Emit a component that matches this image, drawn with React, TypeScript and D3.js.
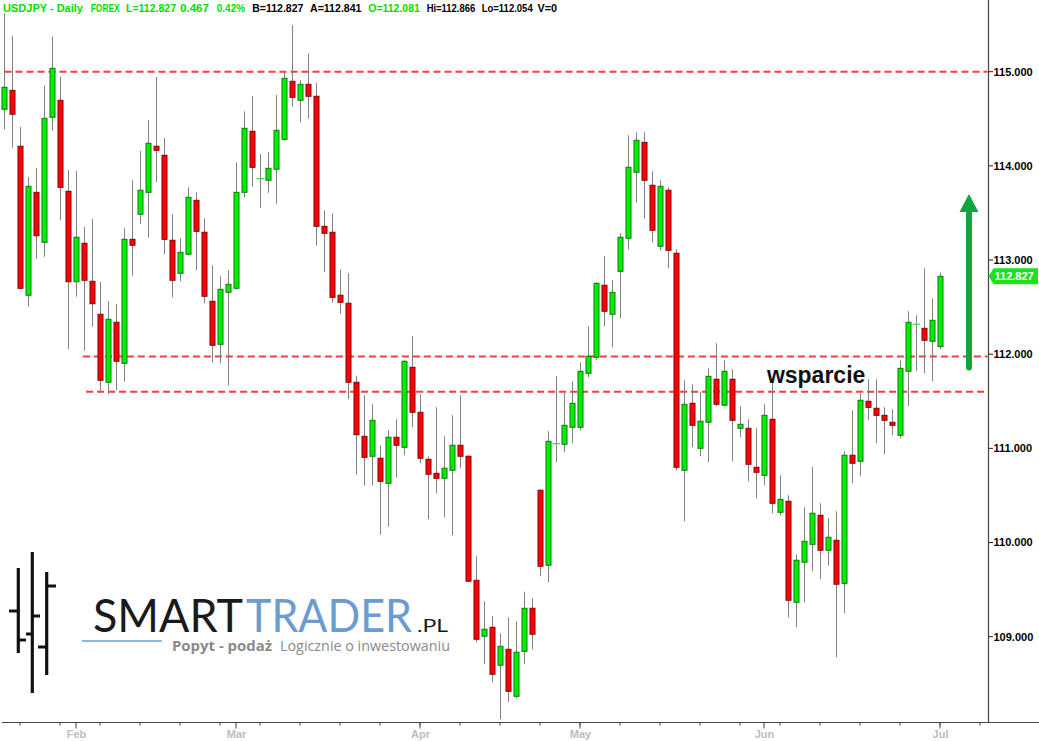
import React from "react";
import * as d3 from "d3";

const opens = [114.601,114.802,114.208,112.626,113.719,113.188,114.516,114.696,113.730,112.770,113.178,112.774,112.424,111.702,112.339,111.903,113.220,113.486,113.719,114.208,114.112,113.210,112.859,113.061,113.634,113.295,112.562,112.105,112.657,112.700,113.719,114.367,113.850,113.847,113.964,114.282,114.898,114.696,114.866,114.739,113.358,113.295,112.626,112.541,111.702,111.128,110.916,110.895,110.629,111.118,111.011,111.861,111.383,110.884,110.735,110.682,110.767,111.033,110.916,109.599,109.005,109.100,108.697,108.866,108.367,108.845,109.302,110.555,109.759,111.043,111.043,111.224,111.224,111.797,111.967,112.732,112.424,112.880,113.231,113.932,114.250,113.794,113.146,113.741,113.072,110.767,111.479,111.001,111.277,111.734,111.458,111.734,111.213,111.213,110.799,110.714,111.309,110.321,110.438,109.366,109.791,109.981,110.289,109.918,110.024,109.567,110.927,110.863,111.500,111.426,111.351,111.277,111.139,111.819,112.316,112.275,112.137,112.081];
const highs = [115.623,115.382,114.413,113.882,113.977,114.851,115.372,114.947,113.956,113.946,113.351,113.436,112.767,112.565,112.533,113.337,113.847,114.158,114.487,114.944,114.296,113.486,113.231,113.772,113.719,113.443,112.944,112.827,112.891,114.038,114.579,114.739,114.126,114.147,114.753,115.000,115.496,114.912,115.191,114.880,113.528,113.492,112.897,112.862,111.772,111.564,111.468,111.033,111.192,111.309,111.935,112.190,111.574,110.916,111.436,111.128,111.351,111.564,110.927,109.854,109.376,109.217,109.036,109.206,109.164,109.478,109.408,110.566,111.181,111.765,111.588,111.712,111.914,112.296,112.764,113.040,112.785,113.284,114.325,114.356,114.356,113.942,113.847,113.772,113.114,111.723,111.680,111.596,111.850,112.116,111.935,111.840,111.447,111.309,111.213,111.468,111.702,110.714,110.502,109.875,110.374,110.802,110.417,110.258,110.332,110.969,111.404,111.585,111.734,111.734,111.436,111.415,111.935,112.456,112.413,112.912,112.594,112.866];
const lows = [114.388,114.193,112.689,112.505,113.011,113.035,114.373,113.425,112.055,112.611,112.037,112.292,111.602,111.574,111.613,111.708,112.834,113.386,113.237,113.829,113.061,112.604,112.774,113.050,112.891,112.541,111.910,111.903,111.666,112.685,113.666,113.779,113.553,113.715,113.598,114.267,114.628,114.463,114.501,113.152,112.876,112.547,112.430,111.521,110.721,110.604,110.604,110.083,110.168,110.689,110.927,111.224,110.842,110.247,110.523,110.268,110.077,110.789,109.578,108.941,108.707,108.516,108.123,108.304,108.346,108.707,108.866,109.642,109.576,110.852,110.958,111.054,111.192,111.755,111.935,112.296,112.073,112.381,113.114,113.609,113.439,113.188,113.103,112.912,110.767,110.226,111.011,110.916,110.852,111.447,111.447,110.863,111.118,110.650,110.470,110.608,110.311,110.289,109.206,109.100,109.366,109.695,109.610,109.754,108.782,109.249,110.629,110.704,111.298,111.054,110.937,111.139,111.107,111.447,111.819,111.797,111.712,112.054];
const closes = [114.834,114.548,112.700,113.783,113.258,114.505,115.036,113.772,112.770,113.242,112.785,112.536,111.723,112.371,111.925,113.220,113.157,113.741,114.240,114.165,113.220,112.785,113.082,113.666,113.305,112.615,112.095,112.689,112.742,113.719,114.399,113.985,113.865,113.974,114.378,114.930,114.728,114.866,114.739,113.358,113.284,112.604,112.551,111.702,111.145,110.905,111.298,110.650,111.118,111.033,111.925,111.383,110.895,110.725,110.682,110.789,111.033,110.916,109.589,108.973,109.079,108.601,108.898,108.420,108.835,109.302,109.026,109.748,111.075,111.050,111.245,111.479,111.819,111.978,112.753,112.456,112.657,113.242,113.985,114.272,113.847,113.316,113.783,113.103,110.799,111.468,111.245,111.288,111.765,111.468,111.819,111.298,111.256,110.831,110.746,111.351,110.417,110.459,109.387,109.812,110.013,110.311,109.918,110.056,109.557,110.927,110.842,111.511,111.436,111.351,111.298,111.245,111.850,112.339,112.318,112.148,112.360,112.827];

const priceTicks = [109, 110, 111, 112, 113, 114, 115];
const weekTickIdx = [2,7,12,17,22,27,32,37,42,47,52,57,62,67,72,77,82,87,92,97,102,107,112,117,122];
const monthLabels = ["Feb", "Mar", "Apr", "May", "Jun", "Jul"];
const monthTickIdx = [9, 29, 52, 72, 95, 117];

const levelValues = [115.0, 111.975, 111.6];
const levelStartIdx = [0, 9.8, 10.2];

const symbol = "USDJPY";
const bid = 112.827;
const ask = 112.841;

const annotationText = "wsparcie";
const annotationIdx = 95.3;
const annotationPrice = 111.698;
const arrowIdx = 120.56;
const arrowFrom = 111.86;
const arrowTo = 113.70;

const FONT = "'Liberation Sans', Arial, Helvetica, sans-serif";

export default function App() {
  const W = 1039, H = 741;
  const x = d3.scaleLinear().domain([0, 117]).range([4.5, 940.5]);
  const y = d3.scaleLinear().domain([109, 115]).range([636.7, 71.7]);
  const axisX = 988.5;
  const axisY = 722.5;
  const fmt = d3.format(".3f");

  const n = closes.length;
  const last = closes[n - 1];
  const chg = last - closes[n - 2];
  const pct = (chg / closes[n - 2]) * 100;

  const green = "#00dd00";
  // [x, text, colour, width]
  const header: [number, string, string, number][] = [
    [3, `${symbol} - Daily`, green, 80],
    [90.7, "FOREX", green, 29],
    [126, `L=${fmt(last)}`, green, 50],
    [180, fmt(chg), green, 29],
    [216.7, `${pct.toFixed(2)}%`, green, 28.5],
    [252.3, `B=${fmt(bid)}`, "#000", 51],
    [310, `A=${fmt(ask)}`, "#000", 51.5],
    [368.3, `O=${fmt(opens[n - 1])}`, green, 51.5],
    [426.7, `Hi=${fmt(highs[n - 1])}`, "#000", 48.5],
    [481.7, `Lo=${fmt(lows[n - 1])}`, "#000", 51],
    [537.5, "V=0", "#000", 19.5],
  ];

  const ay1 = y(arrowFrom), ay2 = y(arrowTo), ax = x(arrowIdx);
  const ly = y(last);

  return (
    <svg width={W} height={H} style={{ position: "absolute", left: 0, top: 0, background: "#fff" }}>
      <rect x={0} y={0} width={W} height={H} fill="#fff" />

      {/* logo */}
      <g>
        {[
          [18.3, 568, 653],
          [32.3, 552, 693],
          [46.7, 572, 675],
        ].map(([lx, a, b], i) => (
          <line key={"lv" + i} x1={lx} x2={lx} y1={a} y2={b} stroke="#111" strokeWidth={3.2} />
        ))}
        {[
          [9, 18.3, 611],
          [18.3, 26, 640],
          [32.3, 40, 616],
          [26, 32.3, 634],
          [46.7, 56, 586],
          [38, 46.7, 647],
        ].map(([a, b, ty], i) => (
          <line key={"lt" + i} x1={a} x2={b} y1={ty} y2={ty} stroke="#111" strokeWidth={3} />
        ))}
        <text x={93} y={632} fontFamily="Lato, 'Open Sans', sans-serif" fontSize={47} fill="#1a1a1a"
          textLength={150} lengthAdjust="spacingAndGlyphs">SMART</text>
        <text x={246} y={632} fontFamily="Lato, 'Open Sans', sans-serif" fontSize={47} fill="#6b9bd1"
          textLength={166} lengthAdjust="spacingAndGlyphs">TRADER</text>
        <text x={417} y={632} fontFamily="Lato, 'Open Sans', sans-serif" fontSize={18} fill="#1a1a1a"
          textLength={31} lengthAdjust="spacingAndGlyphs">.PL</text>
        <line x1={82} x2={162} y1={641} y2={641} stroke="#6a9fd4" strokeWidth={1.5} />
        <text x={172} y={651} fontFamily="'Open Sans', sans-serif" fontWeight="bold" fontSize={15} fill="#8a8a8a"
          textLength={100} lengthAdjust="spacingAndGlyphs">Popyt - podaż</text>
        <text x={280} y={651} fontFamily="'Open Sans', sans-serif" fontSize={15} fill="#8a8a8a"
          textLength={170} lengthAdjust="spacingAndGlyphs">Logicznie o inwestowaniu</text>
      </g>

      {/* level lines */}
      {levelValues.map((v, i) => (
        <line key={"lvl" + i} x1={x(levelStartIdx[i])} x2={axisX - 1} y1={y(v)} y2={y(v)}
          stroke="#ff3b3b" strokeWidth={2} strokeDasharray="7,4" />
      ))}

      {/* candles */}
      {closes.map((c, i) => {
        const o = opens[i];
        const cx = x(i);
        const up = c >= o;
        const top = y(Math.max(o, c));
        const bot = y(Math.min(o, c));
        const hgt = bot - top;
        return (
          <g key={"c" + i}>
            <line x1={cx} x2={cx} y1={y(highs[i])} y2={y(lows[i])} stroke="#808080" strokeWidth={1} />
            {hgt < 1.5 ? (
              <line x1={cx - 3.5} x2={cx + 3.5} y1={top} y2={top} stroke={up ? "#22ee22" : "#ee0000"} strokeWidth={1.2} />
            ) : (
              <rect x={cx - 2.5} y={top} width={5} height={hgt}
                fill={up ? "#00ee00" : "#ff0000"} stroke={up ? "#0a7d0a" : "#8a0000"} strokeWidth={1} />
            )}
          </g>
        );
      })}

      {/* annotation */}
      <text x={x(annotationIdx)} y={y(annotationPrice)} fontFamily={FONT} fontWeight="bold" fontSize={23} fill="#111">
        {annotationText}
      </text>
      <line x1={ax} x2={ax} y1={ay1} y2={ay2 + 16} stroke="#14a33f" strokeWidth={6} strokeLinecap="round" />
      <path d={`M${ax},${ay2} L${ax + 9.5},${ay2 + 18} L${ax - 9.5},${ay2 + 18} Z`} fill="#14a33f" />

      {/* right axis */}
      <line x1={axisX} x2={axisX} y1={0} y2={axisY} stroke="#444" strokeWidth={1.2} />
      {priceTicks.map((t) => (
        <g key={"pt" + t}>
          <line x1={axisX} x2={axisX + 4.5} y1={y(t)} y2={y(t)} stroke="#222" strokeWidth={1} />
          <text x={axisX + 5} y={y(t)} dy="0.36em" fontFamily={FONT} fontWeight="bold" fontSize={11} fill="#000">
            {fmt(t)}
          </text>
        </g>
      ))}
      <path d={`M${axisX},${ly} L${axisX + 5},${ly - 8} L1038,${ly - 8} L1038,${ly + 8} L${axisX + 5},${ly + 8} Z`} fill="#1fe01f" />
      <text x={axisX + 6} y={ly} dy="0.36em" fontFamily={FONT} fontWeight="bold" fontSize={11} fill="#fff">
        {fmt(last)}
      </text>

      {/* bottom axis */}
      <line x1={2} x2={W} y1={axisY} y2={axisY} stroke="#444" strokeWidth={1.2} />
      {weekTickIdx.map((t) => (
        <line key={"wt" + t} x1={x(t) - 0.5} x2={x(t) - 0.5} y1={axisY} y2={axisY + 3} stroke="#444" strokeWidth={1} />
      ))}
      {monthTickIdx.map((t, i) => (
        <g key={"mt" + i}>
          <line x1={x(t) - 0.5} x2={x(t) - 0.5} y1={axisY} y2={axisY + 6} stroke="#444" strokeWidth={1} />
          <text x={x(t)} y={738} textAnchor="middle" fontFamily={FONT} fontWeight="bold" fontSize={11} fill="#bdbdbd">
            {monthLabels[i]}
          </text>
        </g>
      ))}

      {/* header */}
      {header.map(([hx, t, col, w], i) => (
        <text key={"h" + i} x={hx} y={12} fontFamily={FONT} fontWeight="bold" fontSize={11} fill={col}
          textLength={w} lengthAdjust="spacingAndGlyphs">
          {t}
        </text>
      ))}
    </svg>
  );
}
